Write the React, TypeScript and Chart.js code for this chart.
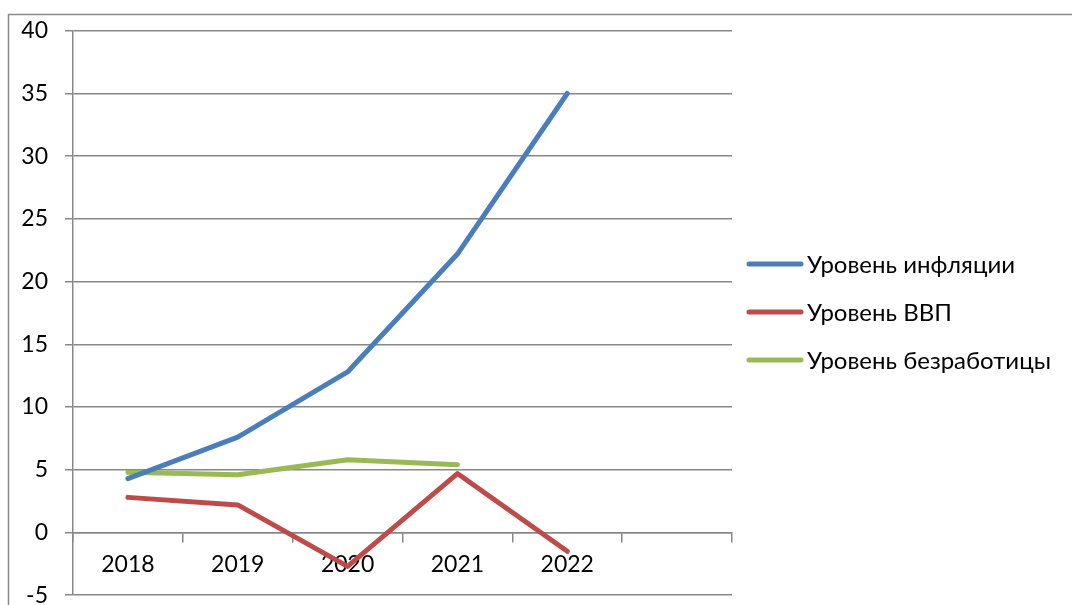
import React, { useEffect, useRef } from "react";
import { Chart, registerables } from "chart.js";

Chart.register(...registerables);

const categories = ["2018", "2019", "2020", "2021", "2022", ""];
const inflation = [4.3, 7.6, 12.8, 22.2, 35.0];
const gdp = [2.8, 2.2, -2.7, 4.7, -1.5];
const unemployment = [4.8, 4.6, 5.8, 5.4];
const seriesNames = ["Уровень инфляции", "Уровень ВВП", "Уровень безработицы"];
const seriesColors = ["#4A7EBB", "#BE4B48", "#98B954"];
const yMin = -5;
const yMax = 40;
const yStep = 5;

const FONT = "Lato, 'Open Sans', sans-serif";
const GRID = "#878787";

const framePlugin = {
  id: "frame",
  beforeDraw(chart: any) {
    const ctx = chart.ctx;
    ctx.save();
    ctx.fillStyle = "#ffffff";
    ctx.fillRect(0, 0, chart.width, chart.height);
    ctx.strokeStyle = "#8a8a8a";
    ctx.lineWidth = 1.5;
    ctx.strokeRect(8.5, 14.5, chart.width + 20, chart.height + 20);
    ctx.restore();
  },
};

const legendPlugin = {
  id: "customLegend",
  afterDraw(chart: any) {
    const ctx = chart.ctx;
    ctx.save();
    const x0 = 749;
    const x1 = 801;
    const ys = [264, 312, 360];
    chart.data.datasets.forEach((ds: any, i: number) => {
      ctx.strokeStyle = ds.borderColor;
      ctx.lineWidth = 5;
      ctx.lineCap = "round";
      ctx.beginPath();
      ctx.moveTo(x0, ys[i]);
      ctx.lineTo(x1, ys[i]);
      ctx.stroke();
      ctx.fillStyle = "#000000";
      ctx.font = `24px ${FONT}`;
      ctx.textBaseline = "middle";
      ctx.textAlign = "left";
      ctx.fillText(ds.label, 807, ys[i] + 1);
    });
    ctx.restore();
  },
};

export default function App() {
  const ref = useRef<HTMLCanvasElement | null>(null);

  useEffect(() => {
    if (!ref.current) return;
    const mk = (i: number, data: number[]) => ({
      label: seriesNames[i],
      data,
      borderColor: seriesColors[i],
      backgroundColor: seriesColors[i],
      borderWidth: 5,
      pointRadius: 0,
      pointHoverRadius: 0,
      tension: 0,
      borderCapStyle: "round" as const,
      borderJoinStyle: "round" as const,
      spanGaps: false,
    });
    const chart = new Chart(ref.current, {
      type: "line",
      data: {
        labels: categories,
        datasets: [mk(0, inflation), mk(1, gdp), mk(2, unemployment)],
      },
      plugins: [framePlugin, legendPlugin],
      options: {
        animation: false,
        responsive: false,
        devicePixelRatio: 1,
        layout: { padding: { left: 0, right: 340, top: 30, bottom: 11 } },
        plugins: {
          legend: { display: false },
          tooltip: { enabled: false },
          title: { display: false },
        },
        scales: {
          x: {
            type: "category",
            offset: true,
            position: { y: 0 } as any,
            afterFit(scale: any) {
              scale.height = 0;
            },
            grid: {
              offset: true,
              drawOnChartArea: false,
              drawTicks: true,
              tickLength: 9,
              color: GRID,
              lineWidth: 1.5,
            },
            border: { display: true, color: GRID, width: 1.5 },
            ticks: {
              color: "#000000",
              font: { family: FONT, size: 23 },
              padding: 9,
              maxRotation: 0,
              autoSkip: false,
            },
          },
          y: {
            min: yMin,
            max: yMax,
            afterFit(scale: any) {
              scale.width = 73;
            },
            grid: {
              color: GRID,
              lineWidth: 1.5,
              drawTicks: true,
              tickLength: 8,
            },
            border: { display: true, color: GRID, width: 1.5 },
            ticks: {
              stepSize: yStep,
              color: "#000000",
              font: { family: FONT, size: 23 },
              padding: 17,
            },
          },
        },
      },
    });
    return () => chart.destroy();
  }, []);

  return (
    <div style={{ position: "fixed", left: 0, top: 0, width: 1072, height: 605, overflow: "hidden", background: "#fff" }}>
      <canvas ref={ref} width={1072} height={626} style={{ display: "block" }} />
    </div>
  );
}
